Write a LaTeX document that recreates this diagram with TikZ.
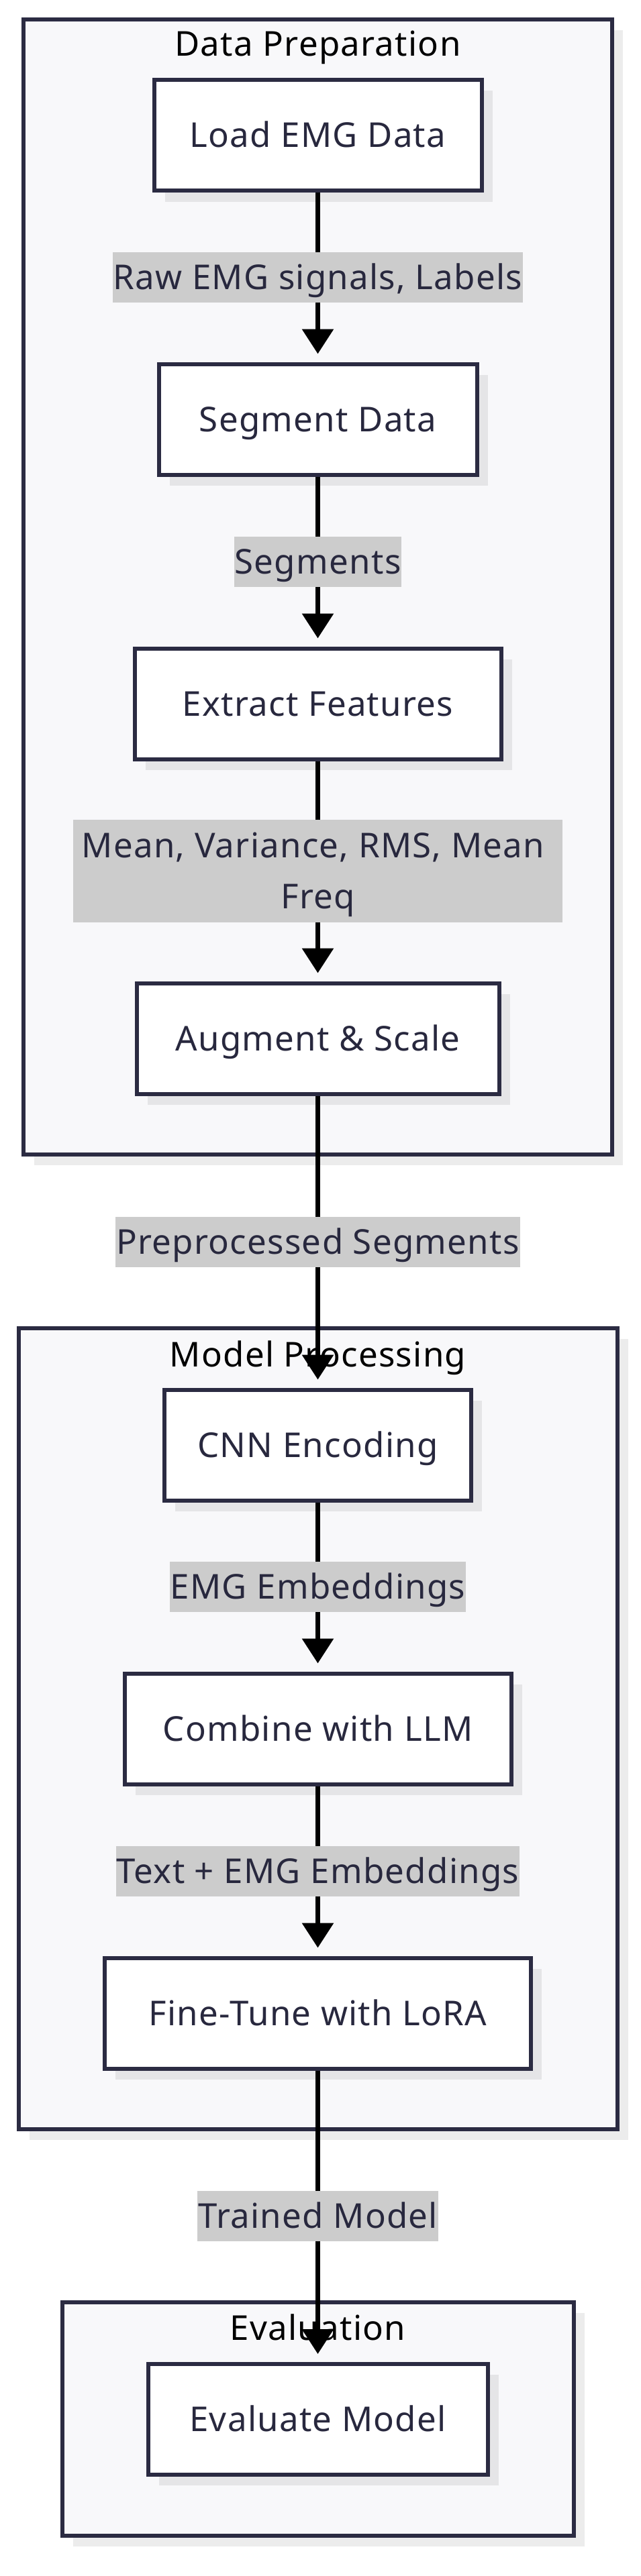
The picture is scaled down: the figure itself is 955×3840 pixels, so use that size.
\documentclass[tikz,border=0pt]{standalone}
\usepackage{fontspec}
\setmainfont{Noto Sans}[LetterSpace=2.5]
\usetikzlibrary{arrows.meta,shadows}
\definecolor{bordc}{HTML}{2B2B42}
\definecolor{txtc}{HTML}{28283E}
\definecolor{clfill}{HTML}{F8F8FA}
\definecolor{lblc}{HTML}{CCCCCC}
\tikzset{
  mainfont/.style={font=\fontsize{51pt}{61pt}\selectfont},
  shad/.style={drop shadow={shadow xshift=16pt,shadow yshift=-16pt,fill=black,opacity=0.075}},
  box/.style={draw=bordc, line width=6pt, fill=white, text=txtc, mainfont,
    text height=36pt, text depth=0pt, inner sep=0pt, minimum height=165pt, shad},
  cluster/.style={draw=bordc, line width=6pt, fill=clfill, inner sep=0pt, shad},
  ctitle/.style={mainfont, text=black, anchor=base, inner sep=0pt},
  lbl/.style={fill=lblc, text=txtc, mainfont, inner xsep=1pt, inner ysep=0pt,
    minimum height=75pt, text height=36pt, text depth=0pt},
  lbltwo/.style={fill=lblc, text=txtc, align=center, font=\fontsize{51pt}{76pt}\selectfont,
    inner xsep=13pt, inner ysep=0pt, minimum height=153pt},
  edge/.style={draw=black, line width=6.5pt, -{Triangle[length=37pt,width=46pt]}, shorten >=12pt}
}
\begin{document}
\begin{tikzpicture}[x=1pt,y=-1pt]
\fill[white] (0,0) rectangle (955,3840);
\useasboundingbox (0,0) rectangle (955,3840);

% clusters
\node[cluster, minimum width=877pt, minimum height=1692pt] (dp) at (473.5,874.8) {};
\node[ctitle] (dpt) at (473.5,84) {Data Preparation};
\node[cluster, minimum width=892pt, minimum height=1194pt] (mp) at (473.5,2577) {};
\node[ctitle] (mpt) at (473.5,2037) {Model Processing};
\node[cluster, minimum width=762pt, minimum height=348pt] (ev) at (473.5,3606) {};
\node[ctitle] (evt) at (473.5,3488) {Evaluation};

% nodes
\node[box, minimum width=488pt] (load) at (473.5,202) {Load EMG Data};
\node[box, minimum width=474pt] (seg) at (473.5,625) {Segment Data};
\node[box, minimum width=546pt] (feat) at (473.5,1049) {Extract Features};
\node[box, minimum width=540pt] (aug) at (473.5,1548) {Augment \& Scale};
\node[box, minimum width=457pt] (cnn) at (473.5,2154) {CNN Encoding};
\node[box, minimum width=576pt] (comb) at (473.5,2577) {Combine with LLM};
\node[box, minimum width=635pt] (fine) at (473.5,3001) {Fine-Tune with LoRA};
\node[box, minimum width=506pt] (evm) at (473.5,3606.5) {Evaluate Model};

% edges
\draw[edge] (load) -- node[lbl] (l1) {Raw EMG signals, Labels} (seg);
\draw[edge] (seg) -- node[lbl] (l2) {Segments} (feat);
\draw[edge] (feat) -- node[lbltwo] (l3) {\rule{0pt}{48.5pt}Mean, Variance, RMS, Mean\hspace*{0.28em}\\Freq} (aug);
\draw[edge] (aug) -- node[lbl] (l4) {Preprocessed Segments} (cnn);
\draw[edge] (cnn) -- node[lbl] (l5) {EMG Embeddings} (comb);
\draw[edge] (comb) -- node[lbl] (l6) {Text + EMG Embeddings} (fine);
\draw[edge] (fine) -- node[lbl] (l7) {Trained Model} (evm);
\end{tikzpicture}
\end{document}
